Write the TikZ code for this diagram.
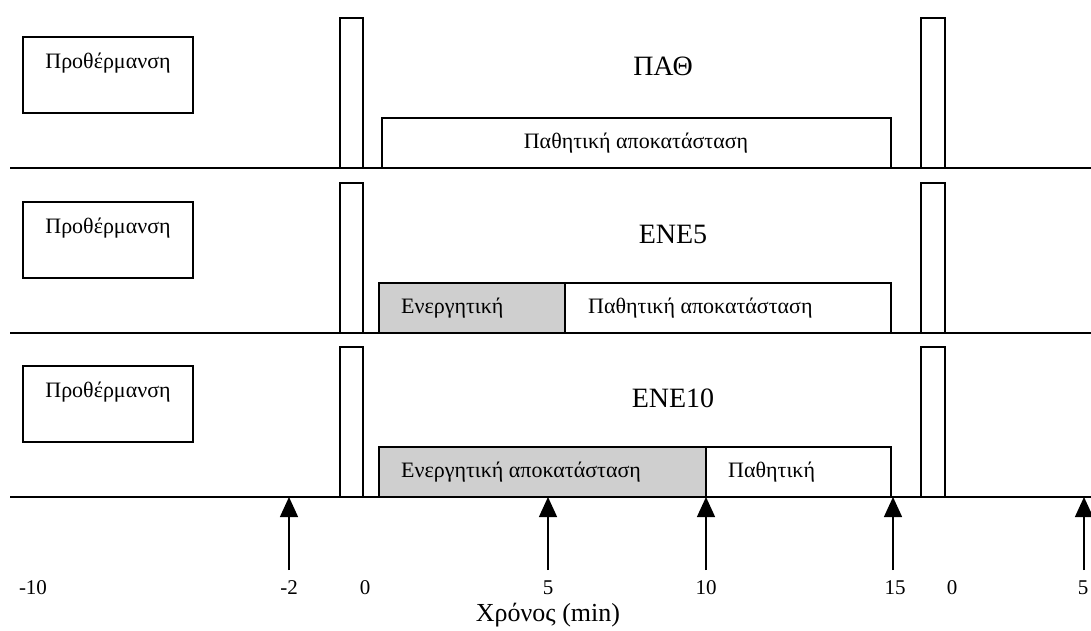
\documentclass[tikz,border=0pt]{standalone}
\usepackage{fontspec}
\setmainfont{Liberation Serif}
\usetikzlibrary{arrows.meta}
\begin{document}
\begin{tikzpicture}[x=1pt,y=-1pt,
  base/.style={line width=1.6pt},
  box/.style={draw,line width=1.3pt},
  graybox/.style={draw,line width=1.3pt,fill=gray!38},
  lbl/.style={font=\fontsize{22}{25}\selectfont,inner sep=0pt},
  boxtxt/.style={font=\fontsize{22}{25}\selectfont,inner sep=0pt},
  title/.style={font=\fontsize{28}{31}\selectfont,inner sep=0pt},
  axlbl/.style={font=\fontsize{21}{24}\selectfont,inner sep=0pt},
  marker/.style={line width=1.4pt,-{Triangle[width=18pt,length=20pt]}}]
\useasboundingbox (0,0) rectangle (1091,630);
\begin{scope}
\clip (0,0) rectangle (1091,630);
% ---------- rows ----------
\foreach \r/\b in {1/168,2/333,3/497}{
  \draw[base] (10,\b) -- (1091,\b);
  \draw[box] (23,\b-131) rectangle (193,\b-55);
  \node[lbl] (warm\r) at (108,\b-105) {Προθέρμανση};
  \draw[box] (340,\b) -- (340,\b-150) -- (363,\b-150) -- (363,\b);
  \draw[box] (921,\b) -- (921,\b-150) -- (945,\b-150) -- (945,\b);
}
% row 1
\node[title] (t1) at (663,66) {ΠΑΘ};
\draw[box] (382,168) -- (382,118) -- (891,118) -- (891,168);
\node[boxtxt] (p1) at (636,143) {Παθητική αποκατάσταση};
% row 2
\node[title] (t2) at (673,234) {ENE5};
\draw[graybox] (379,333) rectangle (565,283);
\draw[box] (565,283) -- (891,283) -- (891,333);
\node[boxtxt,anchor=west] (a2) at (401,308) {Ενεργητική};
\node[boxtxt,anchor=west] (p2) at (588,308) {Παθητική αποκατάσταση};
% row 3
\node[title] (t3) at (673,398) {ENE10};
\draw[graybox] (379,497) rectangle (706,447);
\draw[box] (706,447) -- (891,447) -- (891,497);
\node[boxtxt,anchor=west] (a3) at (401,472) {Ενεργητική αποκατάσταση};
\node[boxtxt,anchor=west] (p3) at (728,472) {Παθητική};
% ---------- markers ----------
\foreach \n/\x in {m2/289,m5/548,m10/706,m15/893,mr5/1084}{
  \coordinate (\n-s) at (\x,570);
  \coordinate (\n-e) at (\x,497);
  \draw[marker] (\n-s) -- (\n-e);
}
% ---------- axis labels ----------
\node[axlbl] (l1) at (33,588) {-10};
\node[axlbl] (l2) at (289,588) {-2};
\node[axlbl] (l3) at (365,588) {0};
\node[axlbl] (l4) at (548,588) {5};
\node[axlbl] (l5) at (706,588) {10};
\node[axlbl] (l6) at (895,588) {15};
\node[axlbl] (l7) at (952,588) {0};
\node[axlbl] (l8) at (1083,588) {5};
\node[font=\fontsize{26}{29}\selectfont,inner sep=0pt] (xl) at (548,615) {Χρόνος (min)};
\end{scope}
\end{tikzpicture}
\end{document}
